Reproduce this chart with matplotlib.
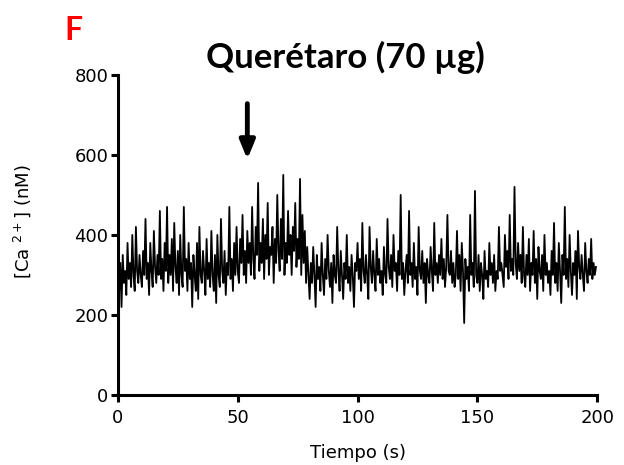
import numpy as np
import matplotlib.pyplot as plt

# Ca2+ trace, one value every 0.5 s (rows = 10 s)
calcium = [
    300, 260, 330, 220, 350, 280, 310, 250, 380, 290, 330, 270, 400, 300, 260, 420, 310, 280, 350, 300,
    270, 360, 300, 440, 290, 330, 250, 380, 310, 270, 410, 320, 280, 350, 300, 460, 290, 340, 260, 380,
    310, 470, 280, 350, 300, 390, 260, 430, 320, 280, 360, 250, 400, 300, 270, 470, 310, 340, 260, 380,
    290, 330, 220, 350, 300, 260, 380, 240, 420, 300, 280, 360, 310, 250, 390, 290, 330, 270, 410, 300,
    260, 350, 230, 400, 300, 270, 440, 310, 280, 360, 250, 330, 300, 470, 290, 340, 260, 380, 300, 420,
    310, 280, 390, 330, 450, 300, 360, 280, 410, 330, 380, 300, 470, 340, 290, 420, 350, 530, 310, 380,
    330, 440, 290, 400, 340, 480, 300, 370, 350, 420, 280, 390, 330, 500, 360, 310, 440, 340, 550, 300,
    380, 330, 460, 350, 400, 300, 420, 360, 480, 320, 390, 340, 540, 300, 450, 330, 410, 280, 370, 300,
    240, 330, 280, 370, 300, 220, 350, 290, 320, 260, 380, 300, 250, 340, 290, 400, 310, 270, 330, 230,
    350, 300, 280, 420, 310, 260, 360, 300, 240, 330, 290, 400, 280, 320, 260, 350, 300, 220, 330, 310,
    380, 290, 340, 260, 430, 310, 280, 350, 300, 240, 420, 320, 280, 360, 300, 260, 390, 300, 340, 280,
    310, 250, 370, 300, 280, 440, 320, 290, 350, 270, 400, 310, 330, 260, 360, 300, 500, 290, 330, 250,
    310, 350, 280, 460, 300, 330, 270, 380, 290, 320, 250, 420, 310, 290, 360, 280, 330, 230, 340, 300,
    280, 370, 310, 260, 430, 300, 330, 280, 350, 300, 390, 290, 340, 270, 320, 450, 310, 300, 360, 280,
    330, 270, 300, 410, 290, 350, 260, 380, 310, 180, 340, 290, 320, 260, 450, 300, 330, 270, 510, 300,
    280, 350, 260, 330, 300, 240, 360, 290, 310, 270, 380, 300, 330, 280, 350, 260, 310, 290, 420, 310,
    330, 300, 270, 400, 320, 360, 290, 450, 310, 340, 300, 520, 330, 290, 380, 310, 350, 280, 420, 300,
    270, 350, 300, 390, 260, 330, 300, 410, 280, 340, 240, 370, 310, 290, 350, 260, 400, 300, 330, 280,
    310, 250, 360, 300, 430, 280, 330, 260, 380, 310, 230, 350, 300, 470, 290, 340, 270, 400, 310, 250,
    330, 300, 360, 240, 410, 320, 290, 350, 300, 260, 380, 310, 280, 340, 300, 390, 290, 330, 300, 320,
]
time = np.arange(len(calcium)) * 0.5

x_ticks = [0, 50, 100, 150, 200]
y_ticks = [0, 200, 400, 600, 800]
arrow_time = 54

fig = plt.figure(figsize=(6.24, 4.65), dpi=100)
ax = fig.add_axes([0.189, 0.1505, 0.768, 0.6885])

ax.plot(time, calcium, color="black", linewidth=1.3)

ax.set_xlim(0, 200)
ax.set_ylim(0, 800)
ax.set_xticks(x_ticks)
ax.set_yticks(y_ticks)
for s in ["top", "right"]:
    ax.spines[s].set_visible(False)
for s in ["left", "bottom"]:
    ax.spines[s].set_linewidth(2.2)
ax.tick_params(width=2.2, length=5, labelsize=13)
ax.tick_params(axis="x", pad=5)
ax.tick_params(axis="y", pad=2)
ax.set_xlabel("Tiempo (s)", fontsize=13, labelpad=12)
ax.set_ylabel("[Ca $^{2+}$] (nM)", fontsize=13)
ax.yaxis.set_label_coords(-0.178, 0.54)

ax.annotate("", xy=(arrow_time, 582), xytext=(arrow_time, 735),
            arrowprops=dict(arrowstyle="-|>,head_width=0.45,head_length=1.1",
                            color="black", lw=3.5))

fig.text(0.553, 0.877, "Querétaro (70 µg)", family="Lato", fontweight="bold",
         fontsize=25, ha="center", va="center")
fig.text(0.103, 0.935, "F", family="Lato", fontweight="bold", color="red",
         fontsize=23, ha="left", va="center")

plt.savefig("out.png", dpi=100)
